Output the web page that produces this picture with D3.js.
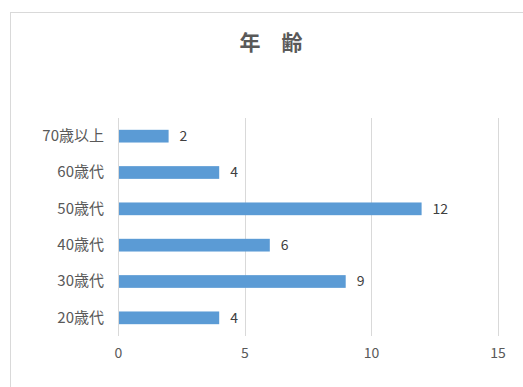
<!DOCTYPE html>
<html>
<head>
<meta charset="utf-8">
<script src="https://cdn.jsdelivr.net/npm/d3@7"></script>
<style>
  html, body { margin: 0; padding: 0; background: #fff; }
  svg { display: block; }
</style>
</head>
<body>
<svg id="chart" width="523" height="387"></svg>
<script>
// Age groups, bottom to top as drawn
const categories = ["20歳代", "30歳代", "40歳代", "50歳代", "60歳代", "70歳以上"];
const counts = [4, 9, 6, 12, 4, 2];
const xTicks = [0, 5, 10, 15];
const title = "年　齢";

const svg = d3.select("#chart");
const font = "'Noto Sans CJK JP', 'Noto Sans', sans-serif";

// chart frame
svg.append("rect")
  .attr("x", 10.5).attr("y", 12.5)
  .attr("width", 600).attr("height", 500)
  .attr("fill", "#fff")
  .attr("stroke", "#d9d9d9")
  .attr("stroke-width", 1);

// title
svg.append("text")
  .attr("x", 271).attr("y", 50)
  .attr("text-anchor", "middle")
  .attr("font-family", font)
  .attr("font-size", 21)
  .attr("font-weight", "bold")
  .attr("fill", "#595959")
  .text(title);

const plot = { left: 118, right: 497.5, top: 118, bottom: 336 };

const x = d3.scaleLinear().domain([0, 15]).range([plot.left, plot.right]);
const y = d3.scaleBand()
  .domain(categories.slice().reverse())
  .range([plot.top, plot.bottom])
  .paddingInner(0.65)
  .paddingOuter(0.325);

// vertical gridlines
svg.append("g")
  .selectAll("line")
  .data(xTicks)
  .join("line")
  .attr("x1", d => Math.round(x(d)) + 0.5)
  .attr("x2", d => Math.round(x(d)) + 0.5)
  .attr("y1", plot.top)
  .attr("y2", plot.bottom)
  .attr("stroke", "#d9d9d9")
  .attr("stroke-width", 1);

// x axis tick labels
const xAxis = d3.axisBottom(x).tickValues(xTicks).tickSize(0).tickPadding(0);
const gx = svg.append("g")
  .attr("transform", `translate(0, ${plot.bottom})`)
  .call(xAxis);
gx.select(".domain").remove();
gx.selectAll("text")
  .attr("y", 22)
  .attr("dy", 0)
  .attr("font-family", font)
  .attr("font-size", 14)
  .attr("fill", "#595959");

// y axis category labels
const yAxis = d3.axisLeft(y).tickSize(0).tickPadding(14);
const gy = svg.append("g")
  .attr("transform", `translate(${plot.left}, 0)`)
  .call(yAxis);
gy.select(".domain").remove();
gy.selectAll("text")
  .attr("font-family", font)
  .attr("font-size", 15)
  .attr("fill", "#595959");

// bars
const rows = categories.map((c, i) => ({ cat: c, v: counts[i] }));
svg.append("g")
  .selectAll("rect")
  .data(rows)
  .join("rect")
  .attr("x", x(0) + 1)
  .attr("y", d => y(d.cat))
  .attr("width", d => x(d.v) - x(0) - 1)
  .attr("height", y.bandwidth())
  .attr("fill", "#5b9bd5");

// value labels
svg.append("g")
  .selectAll("text")
  .data(rows)
  .join("text")
  .attr("x", d => x(d.v) + 11)
  .attr("y", d => y(d.cat) + y.bandwidth() / 2)
  .attr("dy", "0.35em")
  .attr("font-family", font)
  .attr("font-size", 14)
  .attr("fill", "#404040")
  .text(d => d.v);
</script>
</body>
</html>
